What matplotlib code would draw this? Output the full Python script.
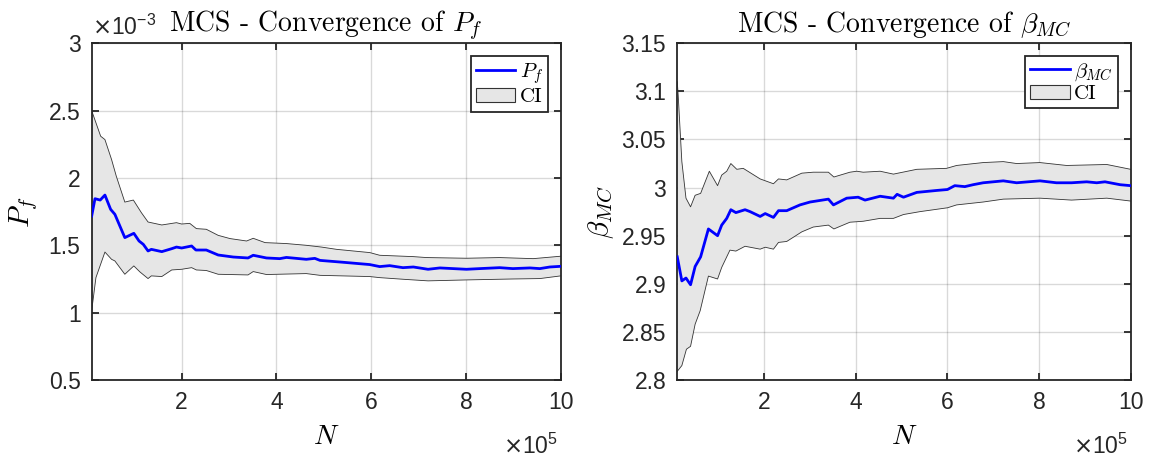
import numpy as np
import matplotlib
matplotlib.use("Agg")
import matplotlib.pyplot as plt
from matplotlib.lines import Line2D
from matplotlib.patches import Patch

plt.rcParams['font.family'] = ['Liberation Sans', 'DejaVu Sans']
plt.rcParams['mathtext.fontset'] = 'cm'
plt.rcParams['axes.unicode_minus'] = False

# ---- data (N in units of 1e5, Pf in units of 1e-3) ----
pf_n = [0.1, 0.17, 0.28, 0.38, 0.5, 0.59, 0.8, 0.99, 1.1, 1.19, 1.29, 1.36, 1.58, 1.79,
        1.89, 2.0, 2.21, 2.3, 2.52, 2.77, 3.09, 3.4, 3.51, 3.79, 4.07, 4.21, 4.63, 4.81,
        4.92, 5.41, 5.97, 6.18, 6.39, 6.67, 6.89, 7.2, 7.45, 8.01, 8.29, 8.71, 8.99, 9.35,
        9.56, 9.77, 10.0]
pf_mean = [1.717, 1.846, 1.836, 1.873, 1.767, 1.73, 1.557, 1.589, 1.532, 1.507, 1.458, 1.47,
           1.453, 1.475, 1.487, 1.48, 1.495, 1.465, 1.465, 1.428, 1.413, 1.406, 1.426, 1.406,
           1.401, 1.41, 1.396, 1.403, 1.388, 1.374, 1.357, 1.342, 1.349, 1.334, 1.339, 1.322,
           1.332, 1.322, 1.327, 1.334, 1.327, 1.332, 1.327, 1.339, 1.344]
pf_up_n = [0.1, 0.29, 0.38, 0.52, 0.62, 0.77, 0.8, 0.98, 1.15, 1.29, 1.58, 1.89, 2.0, 2.17,
           2.31, 2.52, 2.77, 3.02, 3.37, 3.51, 3.76, 4.21, 4.63, 4.95, 5.27, 5.97, 6.18, 6.89,
           7.17, 8.01, 8.71, 9.42, 10.0]
pf_up = [2.5, 2.31, 2.285, 2.137, 2.013, 1.853, 1.821, 1.836, 1.742, 1.673, 1.651, 1.668,
         1.658, 1.663, 1.624, 1.619, 1.574, 1.55, 1.532, 1.552, 1.52, 1.513, 1.5, 1.487, 1.47,
         1.446, 1.426, 1.416, 1.409, 1.404, 1.409, 1.401, 1.419]
pf_lo_n = [0.1, 0.19, 0.38, 0.52, 0.59, 0.8, 0.99, 1.12, 1.29, 1.36, 1.58, 1.79, 2.0, 2.21,
           2.31, 2.52, 2.77, 3.4, 3.51, 3.79, 4.63, 4.92, 5.97, 6.18, 6.67, 7.2, 8.01, 8.99,
           9.56, 10.0]
pf_lo = [1.013, 1.26, 1.45, 1.396, 1.384, 1.285, 1.347, 1.302, 1.253, 1.273, 1.268, 1.317,
         1.322, 1.334, 1.317, 1.313, 1.285, 1.28, 1.305, 1.283, 1.29, 1.277, 1.268, 1.26,
         1.248, 1.236, 1.243, 1.25, 1.253, 1.273]

b_n = [0.1, 0.2, 0.29, 0.39, 0.49, 0.61, 0.78, 0.98, 1.07, 1.18, 1.27, 1.38, 1.58, 1.69,
       1.91, 2.02, 2.2, 2.31, 2.49, 2.78, 3.0, 3.4, 3.51, 3.8, 4.05, 4.2, 4.53, 4.82, 4.9,
       5.04, 5.33, 5.76, 6.0, 6.16, 6.38, 6.56, 6.78, 7.22, 7.51, 8.02, 8.38, 8.71, 9.04,
       9.26, 9.44, 9.77, 10.0]
b_mean = [2.928, 2.903, 2.906, 2.899, 2.918, 2.928, 2.957, 2.95, 2.961, 2.968, 2.977, 2.974,
          2.977, 2.975, 2.97, 2.973, 2.969, 2.976, 2.976, 2.982, 2.985, 2.988, 2.982, 2.989,
          2.99, 2.987, 2.991, 2.989, 2.993, 2.99, 2.995, 2.997, 2.998, 3.002, 3.001, 3.003,
          3.005, 3.007, 3.005, 3.007, 3.005, 3.005, 3.006, 3.005, 3.006, 3.003, 3.002]
b_up_n = [0.1, 0.12, 0.2, 0.29, 0.39, 0.49, 0.61, 0.8, 0.98, 1.07, 1.18, 1.27, 1.4, 1.54,
          1.91, 2.2, 2.31, 2.49, 2.82, 3.07, 3.4, 3.52, 3.87, 4.02, 4.16, 4.53, 4.82, 5.33,
          5.98, 6.2, 6.78, 7.22, 7.51, 8.02, 8.6, 9.48, 10.0]
b_up = [3.11, 3.096, 3.027, 2.989, 2.98, 2.992, 2.994, 3.017, 3.002, 3.013, 3.017, 3.025,
        3.019, 3.02, 3.009, 3.004, 3.009, 3.008, 3.015, 3.016, 3.016, 3.011, 3.016, 3.017,
        3.016, 3.017, 3.014, 3.019, 3.02, 3.023, 3.026, 3.027, 3.025, 3.026, 3.023, 3.024,
        3.019]
b_lo_n = [0.1, 0.2, 0.3, 0.39, 0.49, 0.6, 0.78, 0.98, 1.07, 1.25, 1.38, 1.58, 1.91, 2.02,
          2.2, 2.31, 2.49, 2.82, 3.07, 3.4, 3.52, 3.87, 4.16, 4.53, 4.82, 5.04, 5.4, 6.0,
          6.2, 6.78, 7.22, 8.02, 8.71, 9.48, 10.0]
b_lo = [2.809, 2.815, 2.832, 2.835, 2.858, 2.872, 2.908, 2.905, 2.917, 2.935, 2.934, 2.939,
        2.936, 2.938, 2.936, 2.943, 2.944, 2.954, 2.959, 2.961, 2.957, 2.964, 2.965, 2.968,
        2.968, 2.972, 2.975, 2.979, 2.982, 2.985, 2.988, 2.989, 2.987, 2.989, 2.986]

fig = plt.figure(figsize=(11.53, 4.57), dpi=100)
ax1 = fig.add_axes([0.0795, 0.1685, 0.4068, 0.7368])
ax2 = fig.add_axes([0.5874, 0.1685, 0.3932, 0.7368])

fill_col = '#e6e6e6'
edge_col = '#333333'
dark = '#262626'
tick_fs = 16.5


def draw(ax, n, mean, un, up, ln, lo, lab):
    poly_x = list(un) + list(ln)[::-1]
    poly_y = list(up) + list(lo)[::-1]
    ax.fill(poly_x, poly_y, facecolor=fill_col, edgecolor='none', zorder=1)
    ax.plot(un, up, color=edge_col, lw=0.6, zorder=2)
    ax.plot(ln, lo, color=edge_col, lw=0.6, zorder=2)
    ax.plot(n, mean, color='#0000ff', lw=2.0, zorder=3)
    ax.set_xlim(0.1, 10)
    ax.set_xticks([2, 4, 6, 8, 10])
    ax.grid(True, color='#000000', alpha=0.15, lw=1.0)
    ax.set_axisbelow(True)
    for s in ax.spines.values():
        s.set_linewidth(1.3)
        s.set_color(dark)
    ax.tick_params(direction='in', top=True, right=True, length=5, width=1.3,
                   labelsize=tick_fs, colors=dark, pad=8)
    ax.set_xlabel(r'$N$', fontsize=20, labelpad=7, math_fontfamily='cm')
    handles = [Line2D([], [], color='#0000ff', lw=2.0),
               Patch(facecolor=fill_col, edgecolor=edge_col, lw=0.8)]
    leg = ax.legend(handles, [lab, 'CI'], loc='upper right',
                    prop={'family': 'cmr10', 'size': 15},
                    handlelength=1.9, handletextpad=0.2, borderaxespad=0.6,
                    fancybox=False, framealpha=1, borderpad=0.25, labelspacing=0.1)
    leg.get_frame().set_edgecolor(dark)
    leg.get_frame().set_linewidth(1.3)
    ax.text(0.995, -0.22, r'$\times\mathregular{10^{5}}$', transform=ax.transAxes,
            fontsize=tick_fs, ha='right', va='baseline', math_fontfamily='dejavusans',
            color=dark)


draw(ax1, pf_n, pf_mean, pf_up_n, pf_up, pf_lo_n, pf_lo, r'$P_f$')
ax1.set_ylim(0.5, 3)
ax1.set_yticks([0.5, 1, 1.5, 2, 2.5, 3])
ax1.set_yticklabels(['0.5', '1', '1.5', '2', '2.5', '3'])
ax1.set_ylabel(r'$P_f$', fontsize=21, labelpad=6, math_fontfamily='cm')
ax1.set_title(r'MCS - Convergence of $P_f$', fontsize=20, pad=8,
              fontfamily='cmr10', math_fontfamily='cm')
ax1.text(0.0, 1.025, r'$\times\mathregular{10^{-3}}$', transform=ax1.transAxes,
         fontsize=tick_fs, ha='left', va='baseline', math_fontfamily='dejavusans',
         color=dark)

draw(ax2, b_n, b_mean, b_up_n, b_up, b_lo_n, b_lo, r'$\beta_{MC}$')
ax2.set_ylim(2.8, 3.15)
ax2.set_yticks([2.8, 2.85, 2.9, 2.95, 3.0, 3.05, 3.1, 3.15])
ax2.set_yticklabels(['2.8', '2.85', '2.9', '2.95', '3', '3.05', '3.1', '3.15'])
ax2.set_ylabel(r'$\beta_{MC}$', fontsize=21, labelpad=4, math_fontfamily='cm')
ax2.set_title(r'MCS - Convergence of $\beta_{MC}$', fontsize=20, pad=8,
              fontfamily='cmr10', math_fontfamily='cm')

fig.savefig('out.png', dpi=100)
